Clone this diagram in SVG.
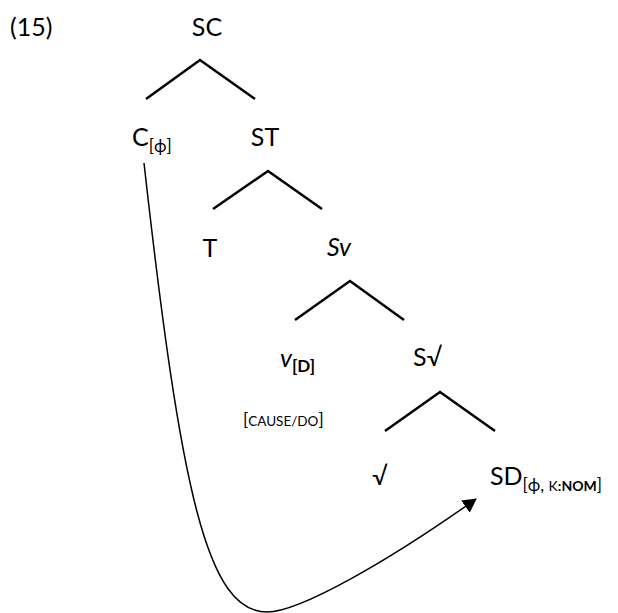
<svg xmlns="http://www.w3.org/2000/svg" width="618" height="613" viewBox="0 0 618 613">
  <style>
    text { font-family: Lato, "Open Sans", "DejaVu Sans", sans-serif; fill: #000; }
    .lbl { font-size: 25px; }
    .sub { font-size: 17px; }
    .sc { font-size: 13.5px; }
    .it { font-style: italic; }
    .b { font-weight: bold; }
    .branch { fill: none; stroke: #000; stroke-width: 2.5; stroke-linecap: butt; stroke-linejoin: miter; }
    .move { fill: none; stroke: #000; stroke-width: 1.5; }
  </style>
  <defs>
    <marker id="head" markerUnits="userSpaceOnUse" viewBox="0 0 14 15" markerWidth="14" markerHeight="15" refX="13" refY="7.5" orient="auto">
      <path d="M0,0 L14,7.5 L0,15 z" fill="#000"/>
    </marker>
  </defs>

  <text class="lbl" x="10" y="36">(15)</text>

  <!-- tree branches -->
  <g id="connectors">
    <polyline class="branch" points="146,99 200,60 255,99"/>
    <polyline class="branch" points="213,209 268,171 322,209"/>
    <polyline class="branch" points="295,320 350,281 404,320"/>
    <polyline class="branch" points="385,431 440,392 495,431"/>
    <!-- movement arrow from C down and up to SD -->
    <path class="move" d="M144,163 C181,493 207,612 267,612 C300,612 390,560 476,499" marker-end="url(#head)"/>
  </g>

  <g id="sc"><text class="lbl" x="207" y="36" text-anchor="middle">SC</text></g>
  <g id="c"><text class="lbl" x="132" y="146">C<tspan class="sub" dy="6">[ϕ]</tspan></text></g>
  <g id="st"><text class="lbl" x="265" y="146" text-anchor="middle">ST</text></g>
  <g id="t"><text class="lbl" x="210" y="257" text-anchor="middle">T</text></g>
  <g id="sv-small"><text class="lbl it" x="339" y="256" text-anchor="middle">Sv</text></g>
  <g id="v"><text class="lbl" x="280" y="367"><tspan class="it">v</tspan><tspan class="sub b" dy="5">[D]</tspan></text>
    <text x="243" y="426"><tspan font-size="17">[</tspan><tspan class="sc">CAUSE/DO</tspan><tspan font-size="17">]</tspan></text>
  </g>
  <g id="sroot"><text class="lbl" x="413" y="366">S√</text></g>
  <g id="root"><text class="lbl" x="372" y="485">√</text></g>
  <g id="sd"><text class="lbl" x="490" y="485">SD<tspan class="sub" font-size="18" dy="6">[ϕ, <tspan font-size="14">K</tspan><tspan font-size="14" class="b">:NOM</tspan>]</tspan></text></g>
</svg>
